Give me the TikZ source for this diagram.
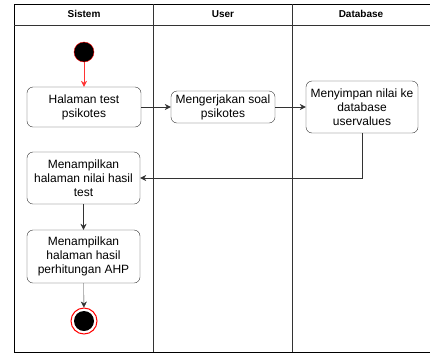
\documentclass[tikz,border=0pt]{standalone}
\usepackage{fontspec}
\setmainfont{Liberation Sans}
\usetikzlibrary{arrows.meta}
\tikzset{
  act/.style={draw=black!80, rounded corners=6pt, align=center, inner sep=1pt,
    font=\fontsize{12}{14}\selectfont},
  lanehead/.style={font=\bfseries\fontsize{10}{12}\selectfont},
  arr/.style={-{Stealth[length=6pt,width=6pt]}, draw=black!80},
}
\begin{document}
\begin{tikzpicture}[x=1pt,y=-1pt]
			%%%%% START %%%%%
			\useasboundingbox (0,0) rectangle (430,354);
			
			% swimlanes
			\draw[line width=0.8pt] (14,4) -- (432,4);
			\draw[line width=0.8pt] (14,352) -- (432,352);
			\draw[line width=0.8pt] (14,4) -- (14,352);
			\draw[black!80] (14,25) -- (432,25);
			\draw[black!80] (153,4) -- (153,352);
			\draw[black!80] (292,4) -- (292,352);
			\node[lanehead] (hsistem) at (84,14) {Sistem};
			\node[lanehead] (huser) at (223,14) {User};
			\node[lanehead] (hdb) at (361,14) {Database};
			
			% start / end
			\node[circle, fill=black, draw=red, minimum size=20pt, inner sep=0pt] (start) at (84,52) {};
			\node[circle, fill=white, draw=red, line width=1pt, minimum size=26pt, inner sep=0pt] (end) at (84,321) {};
			\fill (end.center) circle (10);
			
			% activities
			\node[act, minimum width=114pt, minimum height=40pt] (test) at (84,107) {Halaman test\\psikotes};
			\node[act, minimum width=104pt, minimum height=32pt] (soal) at (223,107) {Mengerjakan soal\\psikotes};
			\node[act, minimum width=112pt, minimum height=52pt] (simpan) at (362,107) {Menyimpan nilai ke\\database\\uservalues};
			\node[act, minimum width=113pt, minimum height=52pt] (nilai) at (83.5,178) {Menampilkan\\halaman nilai hasil\\test};
			\node[act, minimum width=113pt, minimum height=53pt] (ahp) at (83.5,256.5) {Menampilkan\\halaman hasil\\perhitungan AHP};
			
			% flows
			\draw[arr, draw=red!80] (start) -- (test);
			\draw[arr] (test) -- (soal);
			\draw[arr] (soal) -- (simpan);
			\draw[arr] (simpan.south) |- (nilai.east);
			\draw[arr] (nilai) -- (ahp);
			\draw[arr] (ahp) -- (end);
			%%%%% END %%%%%
\end{tikzpicture}
\end{document}
